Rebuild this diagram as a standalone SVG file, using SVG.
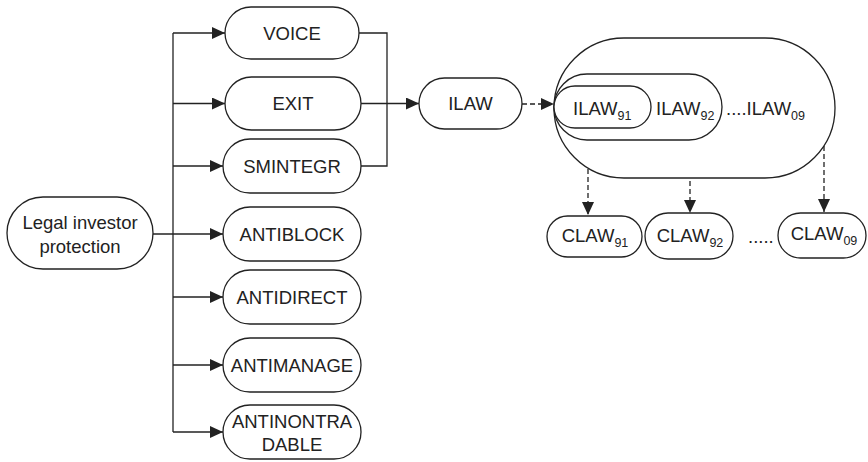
<svg xmlns="http://www.w3.org/2000/svg" width="868" height="462" viewBox="0 0 868 462">
<style>
.n{fill:#fff;stroke:#222;stroke-width:1.3}
.c{fill:none;stroke:#222;stroke-width:1.3}
.d{fill:none;stroke:#222;stroke-width:1.3;stroke-dasharray:5 3}
text{font-family:"Liberation Sans",Arial,sans-serif;font-size:18.5px;fill:#222}
.m{text-anchor:middle}
.s{font-size:12.5px}
</style>
<defs>
<marker id="ah" markerUnits="userSpaceOnUse" markerWidth="13" markerHeight="12" refX="13" refY="6" orient="auto">
<path d="M0,0 L13,6 L0,12 Z" fill="#222"/>
</marker>
</defs>
<rect width="868" height="462" fill="#fff"/>
<g id="connectors">
<line class="c" x1="173" y1="33" x2="173" y2="432"/>
<line class="c" x1="153" y1="234" x2="223" y2="234" marker-end="url(#ah)"/>
<line class="c" x1="173" y1="33" x2="225" y2="33" marker-end="url(#ah)"/>
<line class="c" x1="173" y1="103.5" x2="225" y2="103.5" marker-end="url(#ah)"/>
<line class="c" x1="173" y1="166" x2="223" y2="166" marker-end="url(#ah)"/>
<line class="c" x1="173" y1="297" x2="223" y2="297" marker-end="url(#ah)"/>
<line class="c" x1="173" y1="365" x2="223" y2="365" marker-end="url(#ah)"/>
<line class="c" x1="173" y1="432" x2="223" y2="432" marker-end="url(#ah)"/>
<polyline class="c" points="359,33 387,33 387,166 361,166"/>
<line class="c" x1="361" y1="103.5" x2="419" y2="103.5" marker-end="url(#ah)"/>
<line class="d" x1="522" y1="104" x2="554" y2="104" marker-end="url(#ah)"/>
<line class="d" x1="588" y1="129" x2="588" y2="215" marker-end="url(#ah)"/>
<line class="d" x1="690" y1="141" x2="690" y2="213" marker-end="url(#ah)"/>
<line class="d" x1="824" y1="146" x2="824" y2="212" marker-end="url(#ah)"/>
</g>
<g id="legal">
<rect class="n" x="7" y="197" width="146" height="72" rx="36"/>
<text class="m" x="80" y="229">Legal investor</text>
<text class="m" x="80" y="253">protection</text>
</g>
<g id="voice">
<rect class="n" x="225" y="7" width="134" height="52" rx="26"/>
<text class="m" x="292" y="39.5">VOICE</text>
</g>
<g id="exit">
<rect class="n" x="225" y="77" width="136" height="53" rx="26.5"/>
<text class="m" x="293" y="110">EXIT</text>
</g>
<g id="smintegr">
<rect class="n" x="223" y="139" width="138" height="54" rx="27"/>
<text class="m" x="292" y="172.5">SMINTEGR</text>
</g>
<g id="antiblock">
<rect class="n" x="223" y="207" width="138" height="54" rx="27"/>
<text class="m" x="292" y="240.5">ANTIBLOCK</text>
</g>
<g id="antidirect">
<rect class="n" x="223" y="270" width="138" height="54" rx="27"/>
<text class="m" x="292" y="303.5">ANTIDIRECT</text>
</g>
<g id="antimanage">
<rect class="n" x="223" y="338" width="138" height="54" rx="27"/>
<text class="m" x="292" y="371.5">ANTIMANAGE</text>
</g>
<g id="antinontradable">
<rect class="n" x="223" y="405" width="138" height="54" rx="27"/>
<text class="m" x="292" y="428">ANTINONTRA</text>
<text class="m" x="292" y="451">DABLE</text>
</g>
<g id="ilaw">
<rect class="n" x="419" y="78" width="103" height="51" rx="25.5"/>
<text class="m" x="470.5" y="110">ILAW</text>
</g>
<g id="ilaw-set">
<rect class="n" x="554" y="38" width="281" height="140" rx="70"/>
<rect class="n" x="554" y="74" width="168" height="66" rx="33"/>
<rect class="n" x="554" y="86" width="97" height="42" rx="21"/>
<text x="573" y="115">ILAW<tspan class="s" dy="4.5">91</tspan></text>
<text x="656" y="115">ILAW<tspan class="s" dy="4.5">92</tspan></text>
<text x="726" y="115">....ILAW<tspan class="s" dy="4.5">09</tspan></text>
</g>
<g id="claw91">
<rect class="n" x="547" y="216" width="95" height="41" rx="20.5"/>
<text class="m" x="595" y="242">CLAW<tspan class="s" dy="5">91</tspan></text>
</g>
<g id="claw92">
<rect class="n" x="645" y="213" width="88" height="46" rx="23"/>
<text class="m" x="690" y="242">CLAW<tspan class="s" dy="5">92</tspan></text>
</g>
<text x="748" y="243">.....</text>
<g id="claw09">
<rect class="n" x="778" y="213" width="88" height="45" rx="22.5"/>
<text class="m" x="824" y="240">CLAW<tspan class="s" dy="5">09</tspan></text>
</g>
</svg>
